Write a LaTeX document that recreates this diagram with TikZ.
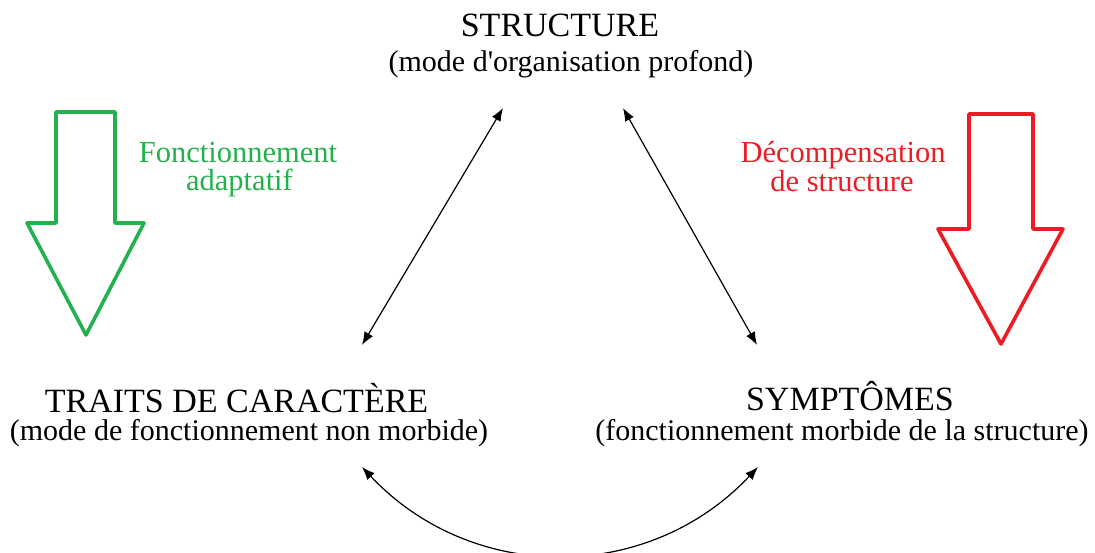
\documentclass[tikz,border=0pt]{standalone}
\usepackage{fontspec}
\setmainfont{Liberation Serif}[Ligatures=TeXOff]
\usetikzlibrary{arrows.meta}
\definecolor{pgreen}{HTML}{22B14C}
\definecolor{pred}{HTML}{ED1C24}
\tikzset{
  head/.style={anchor=base,inner sep=0pt,font=\fontsize{34}{40}\selectfont},
  sub/.style={anchor=base,inner sep=0pt,font=\fontsize{30}{35}\selectfont},
  lab/.style={anchor=base,inner sep=0pt,font=\fontsize{30.5}{35}\selectfont},
  link/.style={line width=1.2pt,{Latex[length=13pt,width=10pt]}-{Latex[length=13pt,width=10pt]}},
  bigarrow/.style={line width=3.6pt,line join=round}
}
\begin{document}
\begin{tikzpicture}[x=1pt,y=-1pt]
\useasboundingbox (0,0) rectangle (1095,553);
% headings
\node[head] (struct) at (560,36.7) {STRUCTURE};
\node[sub] (structsub) at (571,72) {(mode d'organisation profond)};
\node[head] (traits) at (236.5,412) {TRAITS DE CARACTÈRE};
\node[sub] (traitssub) at (249,440) {(mode de fonctionnement non morbide)};
\node[head] (sympt) at (850,410) {SYMPTÔMES};
\node[sub] (symptsub) at (842,440) {(fonctionnement morbide de la structure)};
% side labels
\node[lab,text=pgreen] (fonc) at (238,163) {Fonctionnement};
\node[lab,text=pgreen] (adapt) at (239.5,191) {adaptatif};
\node[lab,text=pred] (decomp) at (843,163) {Décompensation};
\node[lab,text=pred] (destr) at (842,192) {de structure};
% connector ends
\coordinate (a1) at (503,108);
\coordinate (a2) at (362,345);
\coordinate (b1) at (623,108);
\coordinate (b2) at (757,345);
\coordinate (c1) at (362,467);
\coordinate (c2) at (758,467);
\draw[link] (a1) -- (a2);
\draw[link] (b1) -- (b2);
\draw[link] (c1) .. controls (472,584) and (648,584) .. (c2);
% green arrow
\draw[bigarrow,draw=pgreen] (56,112) -- (115,112) -- (115,223) -- (144,223) -- (86,335) -- (27,223) -- (56,223) -- cycle;
% red arrow
\draw[bigarrow,draw=pred] (969,114) -- (1033,114) -- (1033,229) -- (1063,229) -- (1001,344) -- (938,229) -- (969,229) -- cycle;
\end{tikzpicture}
\end{document}
